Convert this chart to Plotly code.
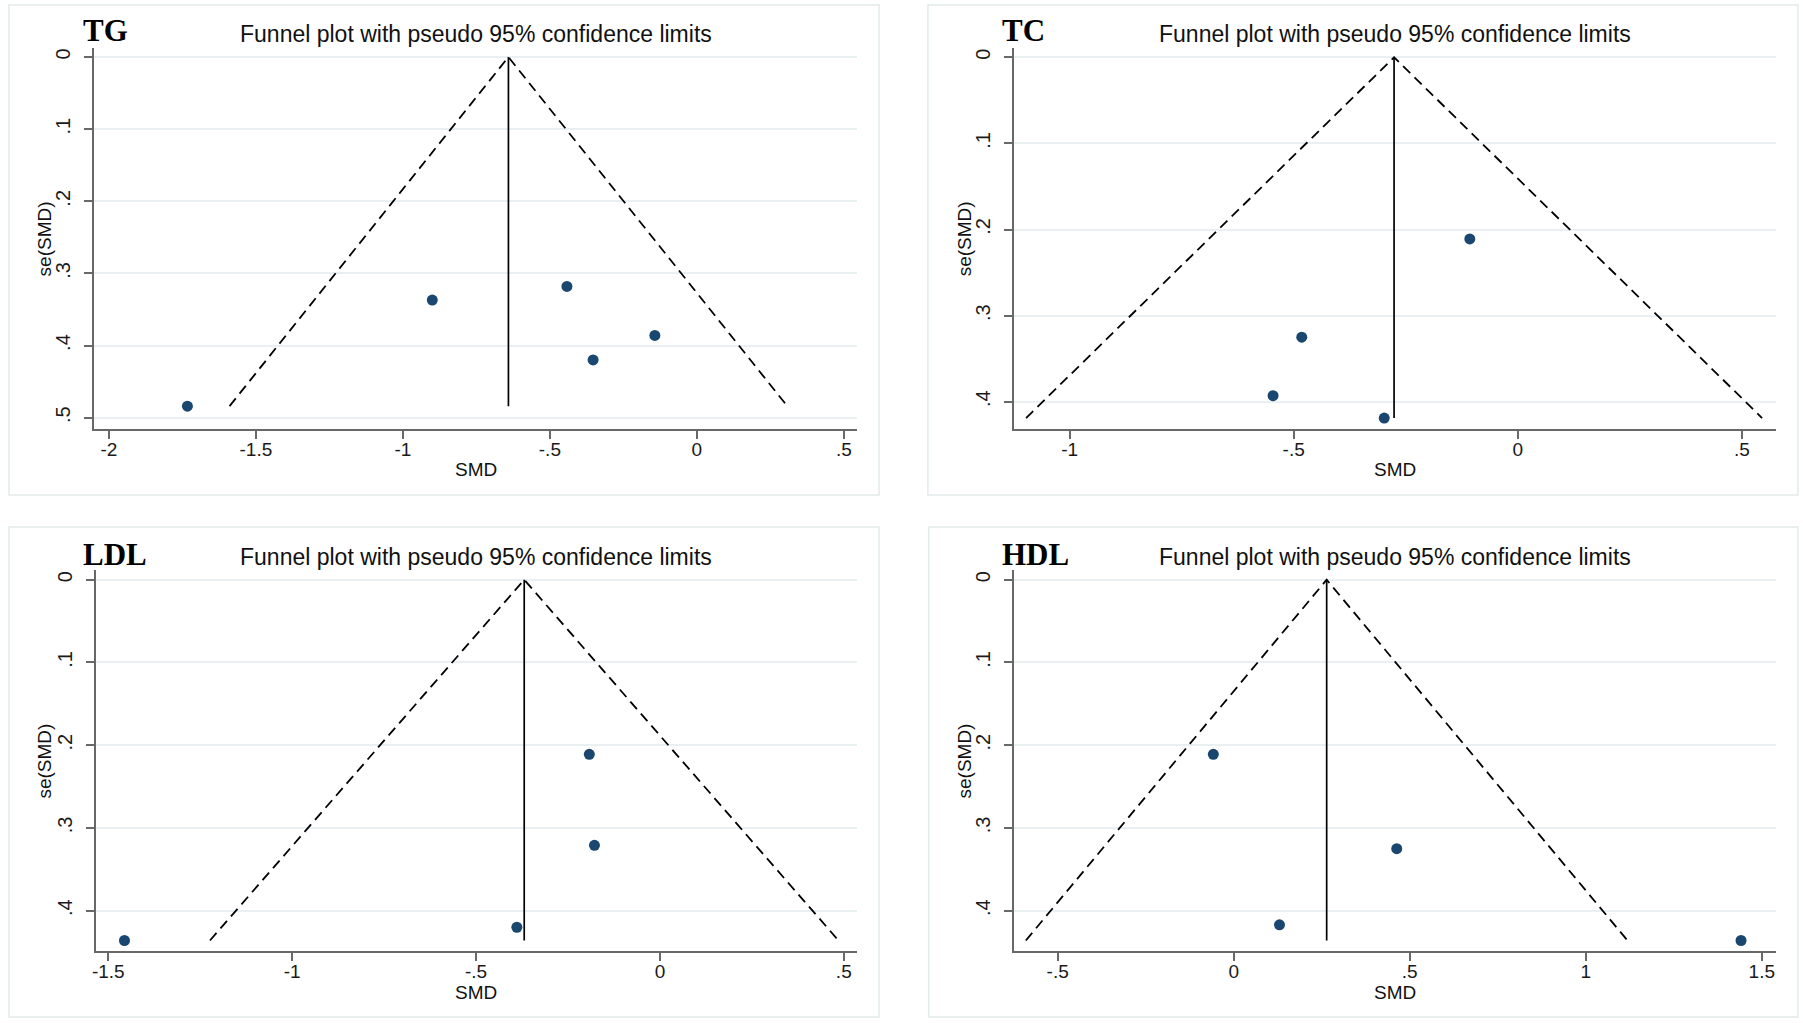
import plotly.graph_objects as go

W, H = 1803, 1023

# ---------------- data ----------------
panel_names = ["TG", "TC", "LDL", "HDL"]

tg_smd = [-1.733, -0.900, -0.442, -0.143, -0.353]
tg_se = [0.484, 0.337, 0.318, 0.386, 0.420]
tg_pooled = -0.641

tc_smd = [-0.107, -0.482, -0.546, -0.298]
tc_se = [0.211, 0.325, 0.393, 0.419]
tc_pooled = -0.276

ldl_smd = [-0.192, -0.178, -0.389, -1.456]
ldl_se = [0.211, 0.321, 0.420, 0.436]
ldl_pooled = -0.369

hdl_smd = [-0.058, 0.463, 0.130, 1.441]
hdl_se = [0.211, 0.325, 0.417, 0.436]
hdl_pooled = 0.264

tg_xticks = [-2, -1.5, -1, -0.5, 0, 0.5]
tg_xlabels = ["-2", "-1.5", "-1", "-.5", "0", ".5"]
tg_yticks = [0, 0.1, 0.2, 0.3, 0.4, 0.5]
tg_ylabels = ["0", ".1", ".2", ".3", ".4", ".5"]

tc_xticks = [-1, -0.5, 0, 0.5]
tc_xlabels = ["-1", "-.5", "0", ".5"]
tc_yticks = [0, 0.1, 0.2, 0.3, 0.4]
tc_ylabels = ["0", ".1", ".2", ".3", ".4"]

ldl_xticks = [-1.5, -1, -0.5, 0, 0.5]
ldl_xlabels = ["-1.5", "-1", "-.5", "0", ".5"]
ldl_yticks = [0, 0.1, 0.2, 0.3, 0.4]
ldl_ylabels = ["0", ".1", ".2", ".3", ".4"]

hdl_xticks = [-0.5, 0, 0.5, 1, 1.5]
hdl_xlabels = ["-.5", "0", ".5", "1", "1.5"]
hdl_yticks = [0, 0.1, 0.2, 0.3, 0.4]
hdl_ylabels = ["0", ".1", ".2", ".3", ".4"]

title_text = "Funnel plot with pseudo 95% confidence limits"
x_title = "SMD"
y_title = "se(SMD)"
z95 = 1.96

# ---------------- layout geometry (pixels) ----------------
panels = [
    dict(name="TG", smd=tg_smd, se=tg_se, pooled=tg_pooled,
         xt=tg_xticks, xl=tg_xlabels, yt=tg_yticks, yl=tg_ylabels,
         xr=[-2.049, 0.545], yr=[0.5157, -0.0125],
         plot=(90.7, 48, 855, 429), box=(5, 5, 877, 495),
         label_xy=(77, 31), title_y=34, xtitle_y=469, ytitle_x=41),
    dict(name="TC", smd=tc_smd, se=tc_se, pooled=tc_pooled,
         xt=tc_xticks, xl=tc_xlabels, yt=tc_yticks, yl=tc_ylabels,
         xr=[-1.124, 0.5764], yr=[0.4317, -0.0108],
         plot=(1012.3, 48, 1776, 429), box=(926, 5, 1798, 495),
         label_xy=(998, 31), title_y=34, xtitle_y=469, ytitle_x=963),
    dict(name="LDL", smd=ldl_smd, se=ldl_se, pooled=ldl_pooled,
         xt=ldl_xticks, xl=ldl_xlabels, yt=ldl_yticks, yl=ldl_ylabels,
         xr=[-1.5345, 0.537], yr=[0.4487, -0.0114],
         plot=(91.8, 570.3, 855.3, 951), box=(5, 527, 877, 1017),
         label_xy=(77, 554), title_y=557, xtitle_y=992, ytitle_x=41),
    dict(name="HDL", smd=hdl_smd, se=hdl_se, pooled=hdl_pooled,
         xt=hdl_xticks, xl=hdl_xlabels, yt=hdl_yticks, yl=hdl_ylabels,
         xr=[-0.624, 1.5405], yr=[0.4487, -0.0114],
         plot=(1012.3, 570.3, 1776, 951), box=(926.7, 527, 1798, 1017),
         label_xy=(998, 554), title_y=557, xtitle_y=992, ytitle_x=963),
]


def px(x):
    return x / W


def py(y):
    return 1 - y / H


FONT = "Liberation Sans, Arial, sans-serif"
AXIS_COLOR = "#686868"
GRID_COLOR = "#e9f0f2"
DOT_COLOR = "#1a476f"

fig = go.Figure()
annotations = []
shapes = []
layout_axes = {}

for i, p in enumerate(panels):
    n = "" if i == 0 else str(i + 1)
    xa, ya = "x" + n, "y" + n
    semax = max(p["se"])
    c = p["pooled"]

    # pseudo 95% limits (dashed)
    fig.add_trace(go.Scatter(
        x=[c - z95 * semax, c, c + z95 * semax], y=[semax, 0, semax],
        mode="lines", line=dict(color="black", width=1.8, dash="10px,6px"),
        xaxis=xa, yaxis=ya, hoverinfo="skip", showlegend=False))
    # pooled estimate line
    fig.add_trace(go.Scatter(
        x=[c, c], y=[0, semax], mode="lines",
        line=dict(color="black", width=1.7),
        xaxis=xa, yaxis=ya, hoverinfo="skip", showlegend=False))
    # studies
    fig.add_trace(go.Scatter(
        x=p["smd"], y=p["se"], mode="markers",
        marker=dict(color=DOT_COLOR, size=11, line=dict(width=0)),
        xaxis=xa, yaxis=ya, showlegend=False))

    x0, y0, x1, y1 = p["plot"]
    layout_axes["xaxis" + n] = dict(
        domain=[px(x0), px(x1)], range=p["xr"], anchor=ya,
        tickmode="array", tickvals=p["xt"], ticktext=p["xl"],
        showgrid=False, zeroline=False, showline=True,
        linecolor=AXIS_COLOR, linewidth=2, ticks="outside", ticklen=8,
        tickwidth=2, tickcolor=AXIS_COLOR, ticklabelstandoff=-6,
        tickfont=dict(family=FONT, size=19, color="#1a1a1a"))
    layout_axes["yaxis" + n] = dict(
        domain=[py(y1), py(y0)], range=p["yr"], anchor=xa,
        tickmode="array", tickvals=p["yt"], ticktext=p["yl"],
        showgrid=True, gridcolor=GRID_COLOR, gridwidth=1.5,
        zeroline=False, showline=True,
        linecolor=AXIS_COLOR, linewidth=2, ticks="outside", ticklen=8,
        tickwidth=2, tickcolor=AXIS_COLOR, tickangle=-90,
        ticklabelstandoff=6,
        tickfont=dict(family=FONT, size=20, color="#1a1a1a"))

    bx0, by0, bx1, by1 = p["box"]
    shapes.append(dict(type="rect", xref="paper", yref="paper",
                       x0=px(bx0), x1=px(bx1), y0=py(by1), y1=py(by0),
                       line=dict(color="#e3eaec", width=1.5),
                       fillcolor="rgba(0,0,0,0)", layer="below"))

    cx = (x0 + x1) / 2
    cy = (y0 + y1) / 2
    lx, ly = p["label_xy"]
    annotations.append(dict(
        text="<b>%s</b>" % p["name"], x=px(lx), y=py(ly), xref="paper",
        yref="paper", xanchor="left", yanchor="middle", showarrow=False,
        font=dict(family="Liberation Serif, Times New Roman, serif",
                  size=31, color="black")))
    annotations.append(dict(
        text=title_text, x=px(cx), y=py(p["title_y"]), xref="paper",
        yref="paper", xanchor="center", yanchor="middle", showarrow=False,
        font=dict(family=FONT, size=23, color="#111111")))
    annotations.append(dict(
        text=x_title, x=px(cx), y=py(p["xtitle_y"]), xref="paper",
        yref="paper", xanchor="center", yanchor="middle", showarrow=False,
        font=dict(family=FONT, size=19, color="#111111")))
    annotations.append(dict(
        text=y_title, x=px(p["ytitle_x"]), y=py(cy), xref="paper",
        yref="paper", xanchor="center", yanchor="middle", showarrow=False,
        textangle=-90,
        font=dict(family=FONT, size=19, color="#111111")))

fig.update_layout(
    width=W, height=H, margin=dict(l=0, r=0, t=0, b=0),
    paper_bgcolor="white", plot_bgcolor="white",
    showlegend=False, annotations=annotations, shapes=shapes,
    **layout_axes)

fig.write_html(
    "out.html",
    config={"displayModeBar": False},
    post_script="document.body.style.margin='0';"
                "document.body.style.padding='0';"
                "document.body.style.overflow='hidden';")
